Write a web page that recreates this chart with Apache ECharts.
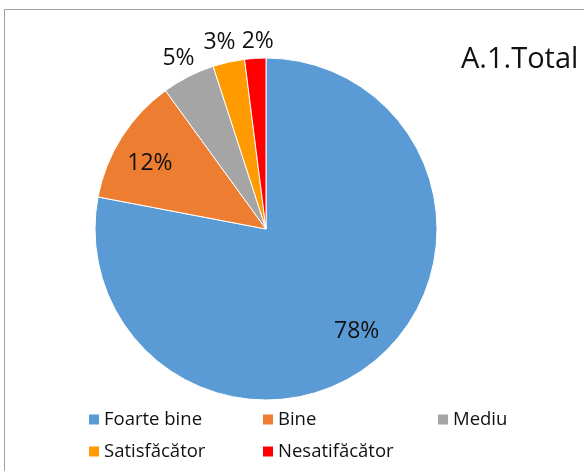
<!DOCTYPE html>
<html>
<head>
<meta charset="utf-8">
<script src="https://cdn.jsdelivr.net/npm/echarts@6/dist/echarts.min.js"></script>
<style>
html,body{margin:0;padding:0;background:#fff;}
#c{width:584px;height:471px;}
</style>
</head>
<body>
<div id="c"></div>
<script>
const categories = ['Foarte bine', 'Bine', 'Mediu', 'Satisfăcător', 'Nesatifăcător'];
const values = [78, 12, 5, 3, 2];
const colors = ['#5B9BD5', '#ED7D31', '#A5A5A5', '#FF9A00', '#FF0000'];
const titleText = 'A.1.Total';

// small visual nudges of the percentage labels (style only)
const labelNudge = [[3, -3], [0, 8], [1, 3], [-4, 4], [4, 7]];

const FONT = 'Open Sans';
const cx = 266, cy = 229, R = 171;

const mainData = categories.map((n, i) => ({ name: n, value: values[i], itemStyle: { color: colors[i] } }));
const innerLabelData = categories.map((n, i) => ({
  name: n, value: values[i],
  label: { show: i < 2 }
}));
const outerLabelData = categories.map((n, i) => ({
  name: n, value: values[i],
  label: { show: i >= 2 }
}));

const labelStyle = {
  position: 'inside',
  formatter: p => p.value + '%',
  fontFamily: FONT, fontSize: 23, color: '#111'
};
const nudge = p => ({ dx: labelNudge[p.dataIndex][0], dy: labelNudge[p.dataIndex][1], hideOverlap: false });

const legendPos = [
  { left: 87, top: 410 },
  { left: 261, top: 410 },
  { left: 436, top: 410 },
  { left: 87, top: 442 },
  { left: 261, top: 442 }
];

const chart = echarts.init(document.getElementById('c'), null, { renderer: 'canvas' });
chart.setOption({
  animation: false,
  backgroundColor: '#fff',
  title: {
    text: titleText, left: 461, top: 45, padding: 0,
    textStyle: { fontFamily: FONT, fontSize: 29, fontWeight: 'normal', color: '#111' }
  },
  graphic: [{
    type: 'rect', silent: true, z: -1,
    shape: { x: 4.5, y: 9.5, width: 700, height: 600 },
    style: { fill: 'none', stroke: '#a0a0a0', lineWidth: 1 }
  }],
  legend: categories.map((n, i) => ({
    data: [{ name: n, itemStyle: { color: colors[i] } }],
    left: legendPos[i].left, top: legendPos[i].top, padding: 0,
    icon: 'rect', itemWidth: 12, itemHeight: 12, selectedMode: false,
    textStyle: { fontFamily: FONT, fontSize: 18.5, color: '#111', padding: [0, 0, 0, -1] }
  })),
  series: [
    {
      type: 'pie', center: [cx, cy], radius: [0, R], startAngle: 90, clockwise: true,
      data: mainData, label: { show: false }, labelLine: { show: false },
      itemStyle: { borderColor: '#fff', borderWidth: 1 },
      emphasis: { disabled: true }
    },
    {
      type: 'pie', center: [cx, cy], radius: [100, 169], startAngle: 90, clockwise: true,
      data: innerLabelData, silent: true, z: 3, avoidLabelOverlap: false,
      itemStyle: { color: 'transparent' }, label: labelStyle, labelLine: { show: false },
      labelLayout: nudge,
      emphasis: { disabled: true }
    },
    {
      type: 'pie', center: [cx, cy], radius: [178, 206], startAngle: 90, clockwise: true,
      data: outerLabelData, silent: true, z: 3, avoidLabelOverlap: false,
      itemStyle: { color: 'transparent' }, label: labelStyle, labelLine: { show: false },
      labelLayout: nudge,
      emphasis: { disabled: true }
    }
  ]
});
</script>
</body>
</html>
